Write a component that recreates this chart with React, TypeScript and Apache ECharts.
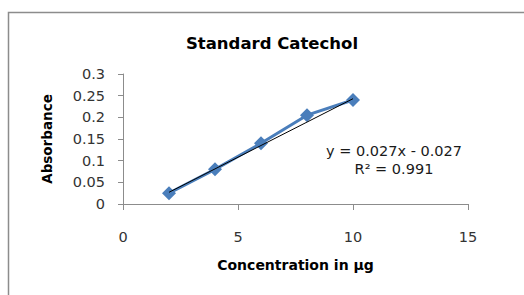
import React, { useEffect, useRef } from "react";
import * as echarts from "echarts";

const concentrations = [2, 4, 6, 8, 10];
const absorbance = [0.025, 0.08, 0.14, 0.205, 0.24];
const trendSlope = 0.027;
const trendIntercept = -0.027;
const equationLines = ["y = 0.027x - 0.027", "R² = 0.991"];

export default function App() {
  const ref = useRef<HTMLDivElement>(null);
  useEffect(() => {
    document.body.style.margin = "0";
    const chart = echarts.init(ref.current!, null, { renderer: "svg" });
    const font = "'DejaVu Sans', sans-serif";
    const trendX = [concentrations[0], concentrations[concentrations.length - 1]];
    chart.setOption({
      animation: false,
      backgroundColor: "#ffffff",
      title: {
        text: "Standard Catechol",
        left: 267,
        top: 30,
        textAlign: "center",
        textStyle: { fontFamily: font, fontSize: 16.5, fontWeight: "bold", color: "#000" },
      },
      graphic: [
        {
          type: "rect",
          shape: { x: 8.5, y: 12.5, width: 530, height: 300 },
          style: { fill: "none", stroke: "#8c8c8c", lineWidth: 1.5 },
          silent: true,
        },
        {
          type: "text",
          x: 394,
          y: 160,
          style: {
            text: equationLines.join("\n"),
            fontFamily: font,
            fontSize: 14.5,
            fill: "#1a1a1a",
            align: "center",
            verticalAlign: "middle",
            lineHeight: 18,
          },
        },
      ],
      grid: { left: 123, right: 56, top: 74, bottom: 91 },
      xAxis: {
        type: "value",
        min: 0,
        max: 15,
        interval: 5,
        name: "Concentration in µg",
        nameLocation: "middle",
        nameGap: 54,
        nameTextStyle: { fontFamily: font, fontSize: 14, fontWeight: "bold", color: "#000" },
        axisLine: { show: true, lineStyle: { color: "#8c8c8c" } },
        axisTick: { show: true, length: 6, lineStyle: { color: "#8c8c8c" } },
        axisLabel: { fontFamily: font, fontSize: 14.5, color: "#333", margin: 25 },
        splitLine: { show: false },
      },
      yAxis: {
        type: "value",
        min: 0,
        max: 0.3,
        interval: 0.05,
        name: "Absorbance",
        nameLocation: "middle",
        nameGap: 69,
        nameTextStyle: { fontFamily: font, fontSize: 13.5, fontWeight: "bold", color: "#000" },
        axisLine: { show: true, lineStyle: { color: "#8c8c8c" } },
        axisTick: { show: true, length: 5, lineStyle: { color: "#8c8c8c" } },
        axisLabel: { fontFamily: font, fontSize: 14.5, color: "#333", margin: 18 },
        splitLine: { show: false },
      },
      series: [
        {
          type: "line",
          data: concentrations.map((x, i) => [x, absorbance[i]]),
          symbol: "diamond",
          symbolSize: 14,
          lineStyle: { color: "#4a7ebb", width: 3 },
          itemStyle: { color: "#4a7ebb" },
          z: 2,
        },
        {
          type: "line",
          data: trendX.map((x) => [x, trendSlope * x + trendIntercept]),
          symbol: "none",
          lineStyle: { color: "#000", width: 1 },
          z: 3,
        },
      ],
    });
    return () => chart.dispose();
  }, []);
  return <div ref={ref} style={{ width: 524, height: 295 }} />;
}
